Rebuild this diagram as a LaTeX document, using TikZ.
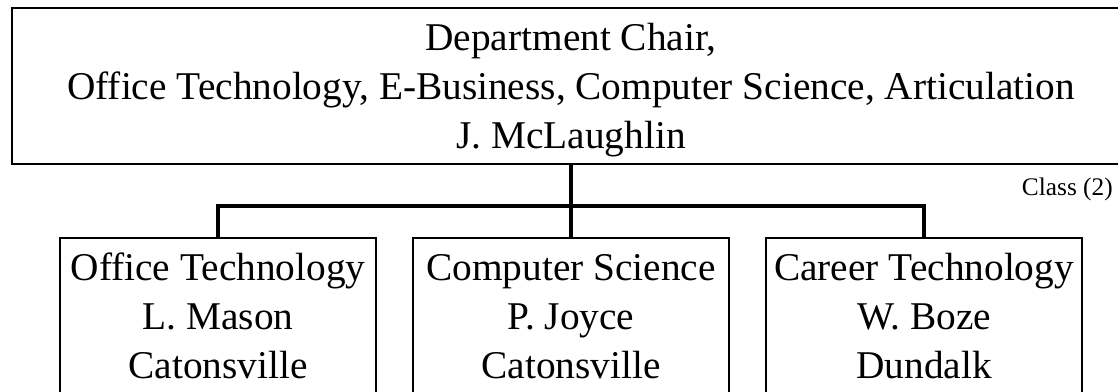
\documentclass[tikz,border=0pt]{standalone}
\usepackage{fontspec}
\setmainfont{Liberation Serif}
\usepackage{tikz}

\tikzset{
  chairbox/.style={draw,line width=1.6pt,inner sep=0pt,anchor=north,align=center,
    minimum width=838.5pt,text height=105pt,text depth=12pt,
    font=\fontsize{29.5}{36.5}\selectfont},
  unitbox/.style={draw,line width=1.2pt,inner sep=0pt,anchor=north,align=center,
    minimum width=237pt,text height=105.75pt,text depth=11.25pt,
    font=\fontsize{29.5}{37}\selectfont},
  conn/.style={line width=3pt}
}

\begin{document}
\begin{tikzpicture}[x=0.75pt,y=-0.75pt]
    \useasboundingbox (0,0) rectangle (1118,392);
    \clip (0,0) rectangle (1118,392);
    % department chair on top
    \node[chairbox] (chair) at (571,7)
      {Department Chair,\\Office Technology, E-Business, Computer Science, Articulation\\J. McLaughlin};
    % three units below
    \node[unitbox] (office) at (218,237) {Office Technology\\L. Mason\\Catonsville};
    \node[unitbox] (compsci) at (571,237) {Computer Science\\P. Joyce\\Catonsville};
    \node[unitbox] (career) at (924,237) {Career Technology\\W. Boze\\Dundalk};
    % connectors
    \coordinate (split) at (571,206);
    \draw[conn] (chair.south) -- (split) -| (office.north);
    \draw[conn] (split) -| (career.north);
    \draw[conn] (split) -- (compsci.north);
    \node[anchor=base east,inner sep=0pt,font=\fontsize{19}{22}\selectfont] (cls) at (1113,196) {Class (2)};
  \end{tikzpicture}
\end{document}
